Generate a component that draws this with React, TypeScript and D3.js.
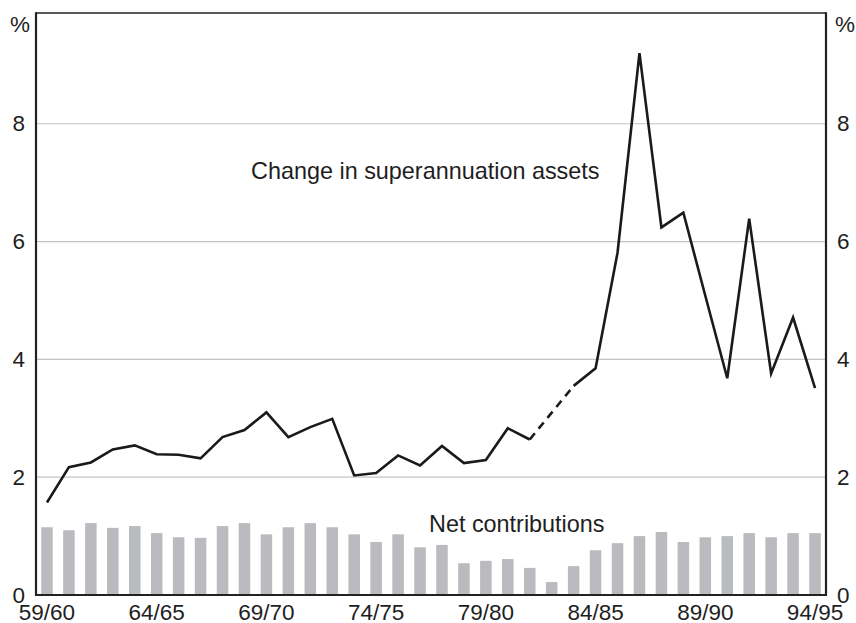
import { useEffect, useRef } from "react";
import * as d3 from "d3";

// financial years 59/60 .. 94/95
const years = d3.range(59, 95).map(y => `${y}/${y + 1}`);
const tickYears = ["59/60", "64/65", "69/70", "74/75", "79/80", "84/85", "89/90", "94/95"];

// change in superannuation assets, % (null = gap, bridged by dashed line)
const assetChange = [
    1.57, 2.17, 2.25, 2.47, 2.54, 2.39, 2.38, 2.32, 2.68, 2.80,
    3.10, 2.68, 2.85, 2.99, 2.03, 2.07, 2.37, 2.20, 2.53, 2.24,
    2.29, 2.83, 2.64, null, 3.55, 3.85, 5.81, 9.20, 6.24, 6.49,
    5.08, 3.68, 6.39, 3.76, 4.71, 3.51
];

// net contributions, %
const netContrib = [
    1.15, 1.10, 1.22, 1.14, 1.17, 1.05, 0.98, 0.97, 1.17, 1.22,
    1.03, 1.15, 1.22, 1.15, 1.03, 0.90, 1.03, 0.81, 0.85, 0.54,
    0.58, 0.61, 0.46, 0.22, 0.49, 0.76, 0.88, 1.00, 1.07, 0.90,
    0.98, 1.00, 1.05, 0.98, 1.05, 1.05
];

const yTicks = [0, 2, 4, 6, 8];
const gridTicks = [2, 4, 6, 8];
const yMax = 9.88;

const W = 856;
const H = 623;
const FONT = "'Liberation Sans', Arial, Helvetica, sans-serif";

export default function App() {
    const ref = useRef(null);

    useEffect(() => {
        const svg = d3.select(ref.current);
        svg.selectAll("*").remove();

        const margin = { top: 13, right: 30, bottom: 28, left: 36 };
        const x0 = margin.left, x1 = W - margin.right;
        const y0 = H - margin.bottom, y1 = margin.top;

        const x = d3.scaleBand()
            .domain(years)
            .range([x0, x1])
            .paddingInner(0.475)
            .paddingOuter(0.2375);
        const cx = (d) => x(d) + x.bandwidth() / 2;

        const y = d3.scaleLinear().domain([0, yMax]).range([y0, y1]);

        // gridlines
        svg.append("g")
            .selectAll("line")
            .data(gridTicks)
            .enter()
            .append("line")
            .attr("x1", x0)
            .attr("x2", x1)
            .attr("y1", d => y(d))
            .attr("y2", d => y(d))
            .attr("stroke", "#c4c4c4")
            .attr("stroke-width", 1.2);

        // bars
        svg.append("g")
            .selectAll("rect")
            .data(netContrib)
            .enter()
            .append("rect")
            .attr("x", (d, i) => x(years[i]))
            .attr("y", d => y(d))
            .attr("width", x.bandwidth())
            .attr("height", d => y(0) - y(d))
            .attr("fill", "#babbbf");

        const pts = assetChange.map((v, i) => ({ year: years[i], v }));

        // dashed bridge over the missing years
        const bridges = [];
        pts.forEach((p, i) => {
            if (p.v === null) return;
            if (i > 0 && pts[i - 1].v === null) {
                let j = i - 1;
                while (j >= 0 && pts[j].v === null) j--;
                if (j >= 0) bridges.push([pts[j], p]);
            }
        });

        const line = d3.line()
            .defined(d => d.v !== null)
            .x(d => cx(d.year))
            .y(d => y(d.v));

        svg.append("g")
            .selectAll("path")
            .data(bridges)
            .enter()
            .append("path")
            .attr("d", d => line(d))
            .attr("fill", "none")
            .attr("stroke", "#1a1a1a")
            .attr("stroke-width", 2.6)
            .attr("stroke-dasharray", "8,6");

        svg.append("path")
            .datum(pts)
            .attr("d", line)
            .attr("fill", "none")
            .attr("stroke", "#1a1a1a")
            .attr("stroke-width", 2.6)
            .attr("stroke-linejoin", "miter");

        // frame
        svg.append("line")
            .attr("x1", x0).attr("x2", x1)
            .attr("y1", y1).attr("y2", y1)
            .attr("stroke", "#222").attr("stroke-width", 1.6);

        const yAxisL = d3.axisLeft(y).tickValues(yTicks).tickSize(0).tickPadding(11).tickFormat(d3.format("d"));
        const yAxisR = d3.axisRight(y).tickValues(yTicks).tickSize(0).tickPadding(11).tickFormat(d3.format("d"));
        const xAxis = d3.axisBottom(x).tickValues(tickYears).tickSize(0).tickPadding(9);

        const gl = svg.append("g").attr("transform", `translate(${x0},0)`).call(yAxisL);
        const gr = svg.append("g").attr("transform", `translate(${x1},0)`).call(yAxisR);
        const gb = svg.append("g").attr("transform", `translate(0,${y0})`).call(xAxis);

        [gl, gr, gb].forEach(g => {
            g.attr("font-family", FONT).attr("font-size", 22.5);
            g.selectAll("text").attr("fill", "#1e1e1e");
            g.select(".domain").attr("stroke", "#222").attr("stroke-width", 2.2);
        });
        gb.select(".domain").attr("d", `M${x0 - 1},0H${x1 + 1}`);
        gl.select(".domain").attr("d", `M0,${y0}V${y1 - 0.8}`);
        gr.select(".domain").attr("d", `M0,${y0}V${y1 - 0.8}`);

        // unit labels
        svg.append("text")
            .attr("x", x0 - 6).attr("y", 32)
            .attr("text-anchor", "end")
            .attr("font-family", FONT).attr("font-size", 22.5).attr("fill", "#1e1e1e")
            .text("%");
        svg.append("text")
            .attr("x", x1 + 9).attr("y", 32)
            .attr("text-anchor", "start")
            .attr("font-family", FONT).attr("font-size", 22.5).attr("fill", "#1e1e1e")
            .text("%");

        // series labels
        svg.append("text")
            .attr("x", 251).attr("y", 179)
            .attr("font-family", FONT).attr("font-size", 23.4).attr("fill", "#1e1e1e")
            .text("Change in superannuation assets");
        svg.append("text")
            .attr("x", 429).attr("y", 532)
            .attr("font-family", FONT).attr("font-size", 23.4).attr("fill", "#1e1e1e")
            .text("Net contributions");
    }, []);

    return (
        <svg
            ref={ref}
            width={W}
            height={H}
            style={{ position: "absolute", left: 0, top: 0, background: "#fff" }}
        ></svg>
    );
}
